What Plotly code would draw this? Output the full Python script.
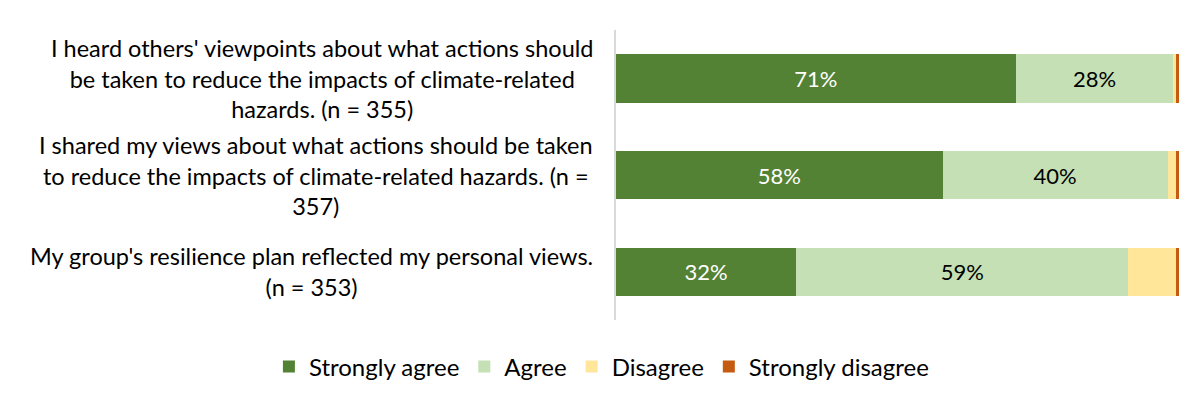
import plotly.graph_objects as go

categories = ["Q1", "Q2", "Q3"]
category_labels = [
    "I heard others' viewpoints about what actions should<br>be taken to reduce the impacts of climate-related<br>hazards. (n = 355)",
    "I shared my views about what actions should be taken<br>to reduce the impacts of climate-related hazards. (n =<br>357)",
    "My group's resilience plan reflected my personal views.<br>(n = 353)",
]
series_names = ["Strongly agree", "Agree", "Disagree", "Strongly disagree"]
strongly_agree = [71, 58, 32]
agree = [28, 40, 59]
disagree = [0.4, 1.4, 8.4]
strongly_disagree = [0.6, 0.6, 0.6]
show_labels = [True, True, False, False]

colors = ["#548235", "#C5E0B4", "#FFE699", "#C55A11"]
label_colors = ["#FFFFFF", "#000000", "#000000", "#000000"]
FONT = "Lato"

fig = go.Figure()
for name, vals, col, tcol, show in zip(series_names,
                                       [strongly_agree, agree, disagree, strongly_disagree],
                                       colors, label_colors, show_labels):
    fig.add_trace(go.Bar(
        name=name, y=categories, x=vals, orientation="h",
        marker=dict(color=col, line=dict(width=0)),
        width=0.5,
        text=[f"{v:.0f}%" for v in vals] if show else None,
        textposition="inside" if show else "none",
        insidetextanchor="middle",
        textangle=0,
        constraintext="none",
        textfont=dict(family=FONT, size=22, color=tcol),
        hoverinfo="skip",
    ))

for cat, lab in zip(categories, category_labels):
    fig.add_annotation(
        x=-0.037, xref="paper", y=cat, yref="y",
        text=lab, showarrow=False, xanchor="right", yanchor="middle",
        align="center", font=dict(family=FONT, size=23.5, color="#000000"),
    )

fig.update_layout(
    width=1192, height=392,
    barmode="stack",
    bargap=0.5,
    margin=dict(l=608, r=21, t=22, b=80, autoexpand=False),
    paper_bgcolor="white", plot_bgcolor="white",
    font=dict(family=FONT, size=20, color="#000000"),
    xaxis=dict(range=[0, 100], visible=False, showgrid=False, zeroline=False),
    yaxis=dict(categoryorder="array", categoryarray=categories, autorange="reversed",
               showticklabels=False, showgrid=False, zeroline=False,
               showline=True, linecolor="#D9D9D9", linewidth=2, ticks=""),
    legend=dict(orientation="h", x=-0.6165, xanchor="left", y=-0.162, yanchor="middle",
                font=dict(family=FONT, size=24, color="#000000"),
                traceorder="normal"),
    showlegend=True,
)

fig.write_html("out.html")
